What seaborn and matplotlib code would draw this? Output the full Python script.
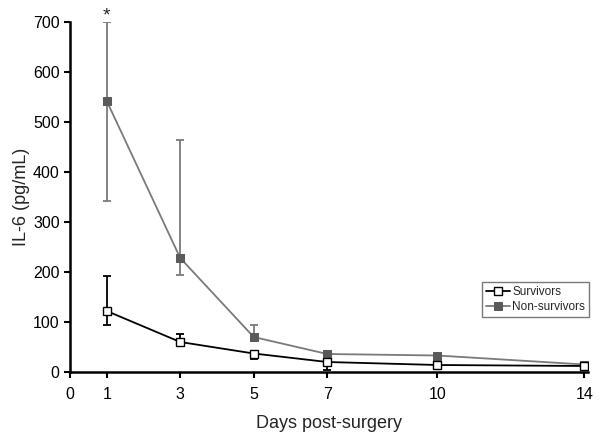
import numpy as np
import pandas as pd
import seaborn as sns
import matplotlib.pyplot as plt

days = [1, 3, 5, 7, 10, 14]
surv_mean = [122, 60, 37, 20, 14, 12]
surv_up = [193, 77, 40, 22, 15, 13]
surv_lo = [95, 58, 27, 5, 13, 11]
non_mean = [542, 228, 70, 36, 33, 15]
non_up = [700, 464, 95, 37, 34, 16]
non_lo = [342, 195, 68, 35, 32, 14]
x_ticks = [0, 1, 3, 5, 7, 10, 14]

df = pd.DataFrame({
    'day': days * 2,
    'il6': surv_mean + non_mean,
    'group': ['Survivors'] * 6 + ['Non-survivors'] * 6,
})

sns.set_style('white')
plt.rcParams['font.family'] = ['Liberation Sans', 'DejaVu Sans']

fig = plt.figure(figsize=(6, 4.42), dpi=100)
ax = fig.add_axes([70 / 600, 70 / 442, 518 / 600, 350 / 442])

gray = '#7a7a7a'
# error bars first so markers sit on top
ax.errorbar(days, non_mean,
            yerr=[np.array(non_mean) - np.array(non_lo), np.array(non_up) - np.array(non_mean)],
            fmt='none', ecolor=gray, elinewidth=1.3, capsize=3, capthick=1.3, zorder=1)
ax.errorbar(days, surv_mean,
            yerr=[np.array(surv_mean) - np.array(surv_lo), np.array(surv_up) - np.array(surv_mean)],
            fmt='none', ecolor='black', elinewidth=1.3, capsize=3, capthick=1.3, zorder=1)

sns.lineplot(data=df[df.group == 'Non-survivors'], x='day', y='il6', ax=ax,
             color=gray, lw=1.3, marker='s', markersize=5.5, markerfacecolor='#5a5a5a',
             markeredgecolor='#5a5a5a', label='Non-survivors', zorder=2)
sns.lineplot(data=df[df.group == 'Survivors'], x='day', y='il6', ax=ax,
             color='black', lw=1.3, marker='s', markersize=5.5, markerfacecolor='white',
             markeredgecolor='black', markeredgewidth=1, label='Survivors', zorder=3)

ax.set_xlim(0, 14.1)
ax.set_ylim(0, 700)
ax.set_xticks(x_ticks)
ax.set_yticks(range(0, 701, 100))
ax.tick_params(axis='both', direction='out', length=4, width=1.5, labelsize=11.5,
               colors='black', bottom=True, left=True)
ax.tick_params(axis='x', pad=7)
for s in ['top', 'right']:
    ax.spines[s].set_visible(False)
for s in ['left', 'bottom']:
    ax.spines[s].set_linewidth(1.8)
    ax.spines[s].set_color('black')

ax.set_xlabel('Days post-surgery', fontsize=13, labelpad=9)
ax.set_ylabel('IL-6 (pg/mL)', fontsize=13, labelpad=2)

ax.text(1, 712, '*', ha='center', va='center', fontsize=14, clip_on=False)

h, l = ax.get_legend_handles_labels()
order = [l.index('Survivors'), l.index('Non-survivors')]
ax.legend([h[i] for i in order], [l[i] for i in order], loc='upper left',
          bbox_to_anchor=(412 / 518, 90 / 350), frameon=True, fancybox=False,
          edgecolor='#555555', fontsize=8.5, handlelength=2.0, handletextpad=0.2,
          borderpad=0.35, labelspacing=0.25, borderaxespad=0)

fig.savefig('out.png', dpi=100)
